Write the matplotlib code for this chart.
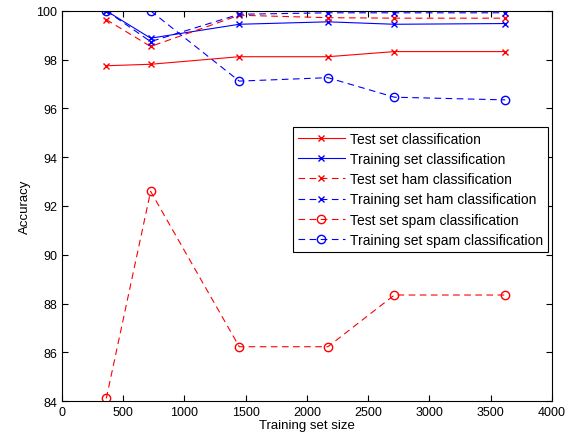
import numpy as np
import matplotlib
matplotlib.use("Agg")
import matplotlib.pyplot as plt

plt.rcParams['font.family'] = ['Liberation Sans', 'DejaVu Sans']

# Data
train_size = [362, 724, 1448, 2172, 2715, 3620]
test_all = [97.75, 97.81, 98.12, 98.12, 98.33, 98.33]
train_all = [100.0, 98.88, 99.45, 99.55, 99.45, 99.48]
test_ham = [99.64, 98.54, 99.82, 99.72, 99.70, 99.70]
train_ham = [100.0, 98.74, 99.86, 99.92, 99.92, 99.92]
test_spam = [84.11, 92.6, 86.23, 86.23, 88.35, 88.35]
train_spam = [100.0, 100.0, 97.12, 97.26, 96.46, 96.35]

labels = ["Test set classification", "Training set classification",
          "Test set ham classification", "Training set ham classification",
          "Test set spam classification", "Training set spam classification"]

fig = plt.figure(figsize=(5.79, 4.39), dpi=100)
ax = fig.add_axes([0.107, 0.084, 0.846, 0.889])

dash = (0, (6, 4))
ax.plot(train_size, test_all, color="red", marker="x", lw=0.8, ms=4.5, label=labels[0])
ax.plot(train_size, train_all, color="blue", marker="x", lw=0.8, ms=4.5, label=labels[1])
ax.plot(train_size, test_ham, color="red", marker="x", lw=0.8, ms=4.5, linestyle=dash, label=labels[2])
ax.plot(train_size, train_ham, color="blue", marker="x", lw=0.8, ms=4.5, linestyle=dash, label=labels[3])
ax.plot(train_size, test_spam, color="red", marker="o", mfc="none", lw=0.8, ms=6, linestyle=dash, label=labels[4])
ax.plot(train_size, train_spam, color="blue", marker="o", mfc="none", lw=0.8, ms=6, linestyle=dash, label=labels[5])

ax.set_xlim(0, 4000)
ax.set_ylim(84, 100)
ax.set_xticks(np.arange(0, 4001, 500))
ax.set_yticks(np.arange(84, 101, 2))
ax.tick_params(direction="in", top=True, right=True, labelsize=9, length=4)
ax.set_xlabel("Training set size", fontsize=9.5, labelpad=1)
ax.set_ylabel("Accuracy", fontsize=9.5, labelpad=4)

leg = ax.legend(loc="upper right", bbox_to_anchor=(0.993, 0.703), fontsize=10,
                fancybox=False, framealpha=1, edgecolor="black",
                borderaxespad=0, handlelength=3.4, handletextpad=0.4,
                labelspacing=0.45, borderpad=0.35)
leg.get_frame().set_linewidth(0.8)

fig.savefig("out.png", dpi=100)
